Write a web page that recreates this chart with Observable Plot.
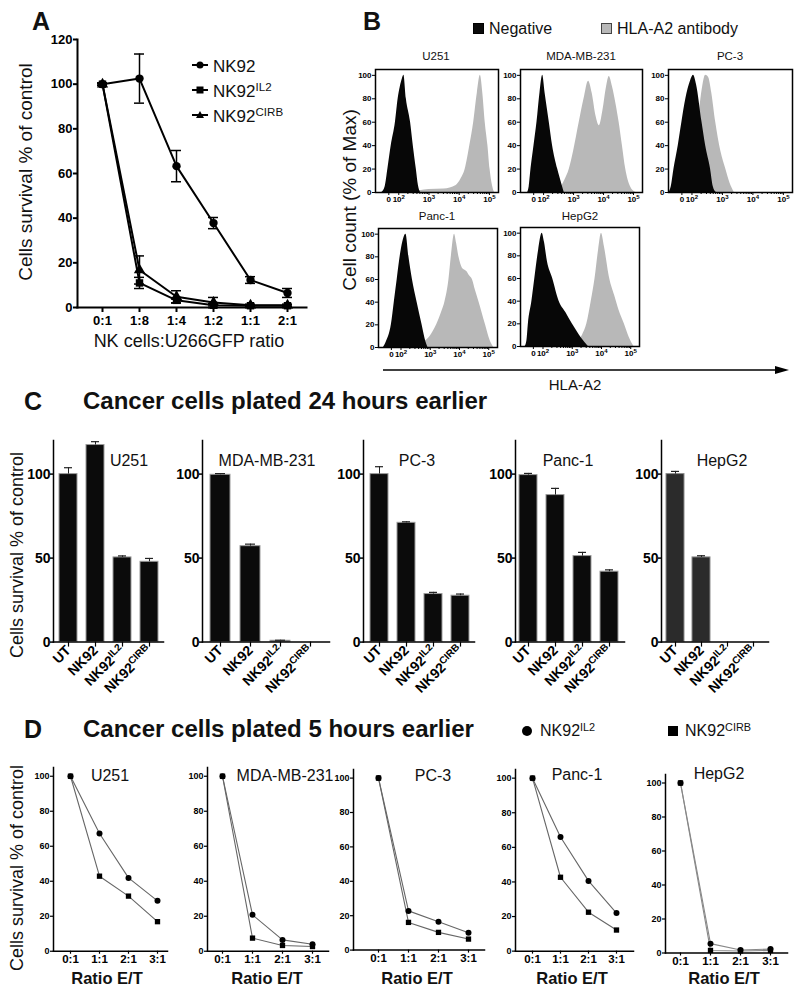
<!DOCTYPE html>
<html><head><meta charset="utf-8">
<script src="https://cdn.jsdelivr.net/npm/d3@7"></script>
<script src="https://cdn.jsdelivr.net/npm/@observablehq/plot@0.6"></script>
<style>
body{margin:0;background:#fff;}
#fig{position:relative;width:800px;height:991px;overflow:hidden;font-family:"Liberation Sans",Arial,sans-serif;color:#111;background:#fff;}
.abs{position:absolute;white-space:nowrap;line-height:1;}
.sup{font-size:0.68em;position:relative;top:-0.5em;}
</style></head><body><div id="fig"></div>
<script>
// ---------------- DATA ----------------
// Panel A
const ratiosA = ["0:1","1:8","1:4","1:2","1:1","2:1"];
const seriesA = ["NK92","NK92^IL2","NK92^CIRB"];
const nk92Mean = [100,102.5,63.3,37.8,12.3,6.5];
const nk92Err  = [0.5,11,7,2.5,1.5,2];
const il2Mean  = [100,11,3.2,1,0.8,0.8];
const il2Err   = [0.5,2.5,1.2,0.8,0.4,0.4];
const cirbMean = [100,16.8,4.8,2.2,1,1];
const cirbErr  = [0.5,6.3,2.7,2.3,0.5,0.5];

// Panel B (x in decades of HLA-A2 fluorescence, y in % of max)
const histTicks = [1.67,2,3,4,5];
const histTickLabels = ["0","10^2","10^3","10^4","10^5"];
const histYTicks = [0,20,40,60,80,100];
const negU251 = [[1.44,0],[1.55,5],[1.64,20],[1.75,40],[1.89,60],[1.98,80],[2.05,90],[2.12,97],[2.17,100],[2.25,80],[2.39,60],[2.48,40],[2.58,20],[2.65,6],[2.72,0]];
const abU251  = [[2.5,0],[2.7,1.5],[3.0,2.5],[3.5,3],[3.9,6],[4.05,11],[4.2,20],[4.35,40],[4.48,60],[4.6,85],[4.7,100],[4.78,85],[4.86,60],[4.95,40],[5.02,20],[5.1,6],[5.17,0]];
const negMDA  = [[1.47,0],[1.52,5],[1.58,20],[1.68,40],[1.78,60],[1.88,85],[1.97,100],[2.05,85],[2.19,60],[2.3,40],[2.47,20],[2.6,8],[2.69,0]];
const abMDA   = [[2.4,0],[2.55,3],[2.7,10],[2.86,20],[3.0,35],[3.19,60],[3.35,80],[3.5,95],[3.62,85],[3.75,65],[3.86,57],[3.98,70],[4.1,90],[4.19,99],[4.3,90],[4.42,75],[4.52,60],[4.63,40],[4.74,20],[4.9,5],[5.08,0]];
const negPC3  = [[1.25,0],[1.32,5],[1.41,20],[1.55,40],[1.67,60],[1.8,80],[1.95,95],[2.05,100],[2.15,92],[2.33,60],[2.45,40],[2.61,20],[2.7,5],[2.8,0]];
const abPC3   = [[1.6,0],[1.8,10],[2.0,30],[2.2,60],[2.35,90],[2.45,100],[2.55,98],[2.65,85],[2.78,60],[2.95,35],[3.11,20],[3.25,8],[3.39,0]];
const negPanc = [[1.4,0],[1.5,5],[1.67,20],[1.77,40],[1.87,60],[2.0,85],[2.17,100],[2.27,80],[2.39,60],[2.55,40],[2.72,20],[2.85,5],[2.92,0]];
const abPanc  = [[2.4,0],[2.6,2],[2.8,5],[3.0,10],[3.22,20],[3.4,32],[3.5,40],[3.64,60],[3.72,80],[3.83,100],[3.9,92],[3.98,80],[4.1,70],[4.25,67],[4.35,63],[4.44,60],[4.55,50],[4.67,40],[4.89,20],[5.05,6],[5.17,0]];
const negHep  = [[1.39,0],[1.45,5],[1.5,20],[1.62,40],[1.72,60],[1.85,85],[1.97,100],[2.05,92],[2.15,75],[2.33,60],[2.55,40],[2.78,30],[3.0,20],[3.3,8],[3.55,0]];
const abHep   = [[2.8,0],[3.0,1],[3.2,4],[3.35,10],[3.5,20],[3.65,40],[3.78,60],[3.9,85],[4.0,100],[4.1,88],[4.28,60],[4.45,45],[4.6,32],[4.78,20],[4.95,8],[5.11,0]];

// Panel C
const cellsC  = ["U251","MDA-MB-231","PC-3","Panc-1","HepG2"];
const groupsC = ["UT","NK92","NK92^IL2","NK92^CIRB"];
const u251C = [100,117.3,50.4,47.8],  u251CErr = [3.8,2,0.9,2];
const mdaC  = [99.6,57.1,0.8,0],      mdaCErr  = [0.7,1.2,0.3,0];
const pc3C  = [100,71,28.6,27.6],     pc3CErr  = [4.4,0.6,1,1];
const pancC = [99.4,87.5,51.2,41.9],  pancCErr = [1,4,2.2,1.1];
const hepC  = [100,50.4,0,0],         hepCErr  = [1.6,1,0,0];

// Panel D
const ratiosD = ["0:1","1:1","2:1","3:1"];
const u251IL2 = [100,67.3,41.9,28.8], u251CIRB = [100,42.9,31.5,16.9];
const mdaIL2  = [100,20.8,6.5,4],     mdaCIRB  = [100,7.5,3.3,2.7];
const pc3IL2  = [100,22.8,16.5,10.1], pc3CIRB  = [100,16.1,10.3,6.4];
const pancIL2 = [100,66,40.6,22],     pancCIRB = [100,42.7,22.5,12.2];
const hepIL2  = [100,5.5,1.8,2.3],    hepCIRB  = [100,1.5,1.2,1.5];

// ---------------- HELPERS ----------------
const fig = document.getElementById("fig");
const FONT = "'Liberation Sans', Arial, sans-serif";
const baseStyle = {fontFamily: FONT, fontWeight: "bold", color: "#000", background: "none", overflow: "visible"};
function place(node, left, top) {
  node.style.position = "absolute"; node.style.left = left + "px"; node.style.top = top + "px";
  fig.appendChild(node);
}
function supify(svg, size) {
  svg.querySelectorAll("text").forEach(t => {
    if (t.children.length === 0 && t.textContent.includes("^")) {
      const [base, sup] = t.textContent.split("^");
      t.textContent = base;
      const ts = document.createElementNS("http://www.w3.org/2000/svg", "tspan");
      ts.setAttribute("dy", "-0.5em"); ts.setAttribute("font-size", size); ts.textContent = sup;
      t.appendChild(ts);
    }
  });
}
function html(s) { return s.replace(/\^(\w+)/g, '<span class="sup">$1</span>'); }
function txt(s, x, y, {size = 16, weight = "normal", anchor = "middle", rotate = 0} = {}) {
  const d = document.createElement("div");
  d.className = "abs"; d.innerHTML = html(s);
  d.style.fontSize = size + "px"; d.style.fontWeight = weight;
  d.style.left = x + "px"; d.style.top = y + "px";
  const tx = anchor === "start" ? "0%" : anchor === "end" ? "-100%" : "-50%";
  d.style.transform = `translate(${tx},-50%)` + (rotate ? ` rotate(${rotate}deg)` : "");
  fig.appendChild(d);
}
function framed(box, m, opts) {
  const p = Plot.plot({
    ...opts,
    width: box.x1 - box.x0 + m.l + m.r, height: box.yBot - box.yTop + m.t + m.b,
    marginLeft: m.l, marginRight: m.r, marginTop: m.t, marginBottom: m.b,
    style: {...baseStyle, ...(opts.style || {})}
  });
  place(p, box.x0 - m.l, box.yTop - m.t);
  return p;
}
function rawSvg(s, left, top, w, h) {
  const d = document.createElement("div");
  d.innerHTML = `<svg width="${w}" height="${h}" xmlns="http://www.w3.org/2000/svg">${s}</svg>`;
  place(d.firstChild, left, top);
}

// ---------------- PANEL A ----------------
const rowsA = ratiosA.flatMap((r, i) => [
  {series: seriesA[0], ratio: r, mean: nk92Mean[i], err: nk92Err[i]},
  {series: seriesA[1], ratio: r, mean: il2Mean[i], err: il2Err[i]},
  {series: seriesA[2], ratio: r, mean: cirbMean[i], err: cirbErr[i]}
]);
framed({x0: 77, x1: 306, yTop: 39, yBot: 307}, {l: 40, r: 10, t: 10, b: 30}, {
  x: {type: "band", domain: ratiosA, paddingInner: 0.73, paddingOuter: 0, insetLeft: 20, insetRight: 14},
  y: {domain: [0, 120]},
  symbol: {domain: seriesA, range: ["circle", "square", "triangle"]},
  marks: [
    Plot.line(rowsA, {x: "ratio", y: "mean", z: "series", stroke: "#000", strokeWidth: 2}),
    Plot.ruleX(rowsA, {x: "ratio", y1: d => d.mean - d.err, y2: d => d.mean + d.err, strokeWidth: 1.5}),
    Plot.tickY(rowsA, {x: "ratio", y: d => d.mean + d.err, strokeWidth: 1.5}),
    Plot.tickY(rowsA, {x: "ratio", y: d => d.mean - d.err, strokeWidth: 1.5}),
    Plot.dot(rowsA, {x: "ratio", y: "mean", symbol: "series", fill: "#000", r: 4.2}),
    Plot.frame({anchor: "left", strokeWidth: 2}),
    Plot.frame({anchor: "bottom", strokeWidth: 2}),
    Plot.axisY({ticks: [0,20,40,60,80,100,120], tickSize: 4, tickPadding: 1, fontSize: 13, strokeWidth: 2, label: null}),
    Plot.axisX({tickSize: 5, tickPadding: 3, fontSize: 13, strokeWidth: 2, label: null})
  ]
});
txt("A", 41, 21, {size: 25, weight: "bold"});
txt("Cells survival % of control", 25, 172, {size: 19, rotate: -90});
txt("NK cells:U266GFP ratio", 189, 341, {size: 18});
rawSvg(`<g stroke="#000" stroke-width="2"><line x1="4" y1="10" x2="20" y2="10"/><line x1="4" y1="35" x2="20" y2="35"/><line x1="4" y1="60" x2="20" y2="60"/></g>
<circle cx="12" cy="10" r="3.5"/><rect x="8.5" y="31.5" width="7" height="7"/><path d="M12 56 L16 63 L8 63 Z"/>`, 188, 55, 24, 70);
txt("NK92", 213, 66, {size: 17, anchor: "start"});
txt("NK92^IL2", 213, 91, {size: 17, anchor: "start"});
txt("NK92^CIRB", 213, 116, {size: 17, anchor: "start"});

// ---------------- PANEL B ----------------
const minorTicks = [2,3,4].flatMap(d => [2,3,4,5,6,7,8,9].map(k => d + Math.log10(k)));
const tickLabelMap = new Map(histTicks.map((t, i) => [t, histTickLabels[i]]));
function histPlot(neg, ab, box) {
  const p = framed(box, {l: 20, r: 4, t: 2, b: 16}, {
    x: {domain: [1.23, 5.3]},
    y: {domain: [0, 105]},
    marks: [
      Plot.areaY(ab, {x: d => d[0], y: d => d[1], fill: "#b8b8b8", curve: "monotone-x"}),
      Plot.areaY(neg, {x: d => d[0], y: d => d[1], fill: "#070707", curve: "monotone-x"}),
      Plot.frame({stroke: "#000", strokeWidth: 1.5}),
      Plot.axisY({ticks: histYTicks, tickSize: 3, tickPadding: 1, fontSize: 8, label: null}),
      Plot.axisX({ticks: histTicks, tickSize: 3, tickPadding: 1, fontSize: 8, tickFormat: d => tickLabelMap.get(d), label: null}),
      Plot.axisX({ticks: minorTicks, tickSize: 2, tickFormat: () => "", label: null})
    ]
  });
  supify(p, 6);
}
histPlot(negU251, abU251, {x0: 375, x1: 498, yTop: 69, yBot: 192});
histPlot(negMDA, abMDA, {x0: 520, x1: 642, yTop: 69, yBot: 192});
histPlot(negPC3, abPC3, {x0: 668, x1: 792, yTop: 69, yBot: 192});
histPlot(negPanc, abPanc, {x0: 378, x1: 497, yTop: 228, yBot: 347});
histPlot(negHep, abHep, {x0: 520, x1: 639, yTop: 227, yBot: 346});
txt("B", 372, 21, {size: 25, weight: "bold"});
txt(cellsC[0], 436, 57, {size: 11.5});
txt(cellsC[1], 581, 57, {size: 11.5});
txt(cellsC[2], 730, 57, {size: 11.5});
txt(cellsC[3], 437, 217, {size: 11.5});
txt(cellsC[4], 580, 217, {size: 11.5});
rawSvg(`<rect x="0.5" y="0.5" width="10" height="10" fill="#0b0b0b" stroke="#000"/>`, 473, 23, 12, 12);
rawSvg(`<rect x="0.5" y="0.5" width="10" height="10" fill="#b8b8b8" stroke="#444"/>`, 601, 23, 12, 12);
txt("Negative", 489, 29, {size: 16, anchor: "start"});
txt("HLA-A2 antibody", 617, 29, {size: 16, anchor: "start"});
txt("Cell count (% of Max)", 349, 200, {size: 19, rotate: -90});
rawSvg(`<line x1="0" y1="6" x2="398" y2="6" stroke="#000" stroke-width="1.5"/><path d="M392 2 L406 6 L392 10 Z" fill="#000"/>`, 383, 364, 408, 12);
txt("HLA-A2", 575, 384, {size: 15});

// ---------------- PANEL C ----------------
function barPlot(means, errs, lay) {
  const rows = groupsC.map((g, i) => ({g, v: means[i], e: errs[i]}));
  const ppu = 1.68, y0 = 642;
  const p = framed({x0: lay.x0, x1: lay.x1, yTop: y0 - 120 * ppu, yBot: y0}, {l: 30, r: 6, t: 4, b: 70}, {
    x: {type: "band", domain: groupsC, paddingInner: 0.32, paddingOuter: 0, insetLeft: lay.il, insetRight: lay.ir},
    y: {domain: [0, 120]},
    marks: [
      Plot.barY(rows, {x: "g", y: "v", fill: lay.fill, stroke: lay.stroke, strokeWidth: 1}),
      Plot.ruleX(rows.filter(d => d.e > 0), {x: "g", y1: "v", y2: d => d.v + d.e, strokeWidth: 1, stroke: "#222"}),
      Plot.tickY(rows.filter(d => d.e > 0), {x: "g", y: d => d.v + d.e, strokeWidth: 1.2, stroke: "#222", insetLeft: 5, insetRight: 5}),
      Plot.frame({anchor: "left", strokeWidth: 1.5}),
      Plot.frame({anchor: "bottom", strokeWidth: 1.5}),
      Plot.axisY({ticks: [0, 50, 100], tickSize: 3, tickPadding: 0, fontSize: 14, strokeWidth: 1.5, label: null}),
      Plot.axisX({tickSize: 5, tickPadding: 1, tickRotate: -45, fontSize: 14, strokeWidth: 1.2, label: null})
    ]
  });
  supify(p, 10);
}
barPlot(u251C, u251CErr, {x0: 53, x1: 163, il: 4, ir: 3, fill: "#0b0b0b", stroke: "#9a9a9a"});
barPlot(mdaC, mdaCErr, {x0: 202, x1: 329, il: 7, ir: 7, fill: "#0b0b0b", stroke: "#9a9a9a"});
barPlot(pc3C, pc3CErr, {x0: 363, x1: 474, il: 6, ir: 4, fill: "#0b0b0b", stroke: "#9a9a9a"});
barPlot(pancC, pancCErr, {x0: 515, x1: 624, il: 4, ir: 5, fill: "#0b0b0b", stroke: "#9a9a9a"});
barPlot(hepC, hepCErr, {x0: 661, x1: 768, il: 4, ir: 5, fill: "#2b2b2b", stroke: "#8a8a8a"});
txt("C", 33, 401, {size: 25, weight: "bold"});
txt("Cancer cells plated 24 hours earlier", 83, 401, {size: 24, weight: "bold", anchor: "start"});
txt("Cells survival % of control", 17, 555, {size: 18, rotate: -90});
txt(cellsC[0], 129, 461, {size: 16});
txt(cellsC[1], 267, 461, {size: 16});
txt(cellsC[2], 417, 461, {size: 16});
txt(cellsC[3], 568, 461, {size: 16});
txt(cellsC[4], 722, 461, {size: 16});

// ---------------- PANEL D ----------------
function linePlot(il2, cirb, lay) {
  const rows = ratiosD.flatMap((r, i) => [{r, v: il2[i], s: "IL2"}, {r, v: cirb[i], s: "CIRB"}]);
  const ppu = (lay.y0 - lay.y100) / 100;
  framed({x0: lay.x0, x1: lay.x1, yTop: lay.y0 - 105 * ppu, yBot: lay.y0}, {l: 26, r: 6, t: 4, b: 16}, {
    x: {type: "point", domain: ratiosD, padding: 0, insetLeft: lay.il, insetRight: lay.ir},
    y: {domain: [0, 105]},
    symbol: {domain: ["IL2", "CIRB"], range: ["circle", "square"]},
    marks: [
      Plot.line(rows, {x: "r", y: "v", z: "s", stroke: lay.line, strokeWidth: 1.1}),
      Plot.dot(rows, {x: "r", y: "v", symbol: "s", fill: "#000", r: 3}),
      Plot.frame({anchor: "left", strokeWidth: 1.5}),
      Plot.frame({anchor: "bottom", strokeWidth: 1.5}),
      Plot.axisY({ticks: [0, 20, 40, 60, 80, 100], tickSize: 3, tickPadding: 1, fontSize: 9, strokeWidth: 1.2, label: null}),
      Plot.axisX({tickSize: 3, tickPadding: 1, fontSize: 11.5, strokeWidth: 1.2, label: null})
    ]
  });
}
linePlot(u251IL2, u251CIRB, {x0: 53, x1: 167, y0: 951, y100: 776, il: 16, ir: 9, line: "#666"});
linePlot(mdaIL2, mdaCIRB, {x0: 207, x1: 328, y0: 951, y100: 776, il: 15, ir: 16, line: "#666"});
linePlot(pc3IL2, pc3CIRB, {x0: 353, x1: 484, y0: 950, y100: 778, il: 24, ir: 16, line: "#666"});
linePlot(pancIL2, pancCIRB, {x0: 515, x1: 633, y0: 951, y100: 778, il: 16, ir: 16, line: "#666"});
linePlot(hepIL2, hepCIRB, {x0: 665, x1: 787, y0: 952, y100: 782, il: 14, ir: 16, line: "#888"});
txt("D", 33, 729, {size: 25, weight: "bold"});
txt("Cancer cells plated 5 hours earlier", 83, 729, {size: 24, weight: "bold", anchor: "start"});
rawSvg(`<circle cx="6" cy="6" r="5" fill="#000"/>`, 521, 725, 12, 12);
txt("NK92^IL2", 540, 731, {size: 16, anchor: "start"});
rawSvg(`<rect x="1" y="1" width="10" height="10" fill="#000"/>`, 667, 725, 12, 12);
txt("NK92^CIRB", 685, 731, {size: 16, anchor: "start"});
txt("Cells survival % of control", 17, 868, {size: 18, rotate: -90});
txt(cellsC[0], 110, 776, {size: 16});
txt(cellsC[1], 285, 776, {size: 16});
txt(cellsC[2], 433, 776, {size: 16});
txt(cellsC[3], 577, 775, {size: 16});
txt(cellsC[4], 719, 774, {size: 16});
[107, 267, 417, 572, 724].forEach(cx => txt("Ratio E/T", cx, 978, {size: 16.5, weight: "bold"}));
</script></body></html>
